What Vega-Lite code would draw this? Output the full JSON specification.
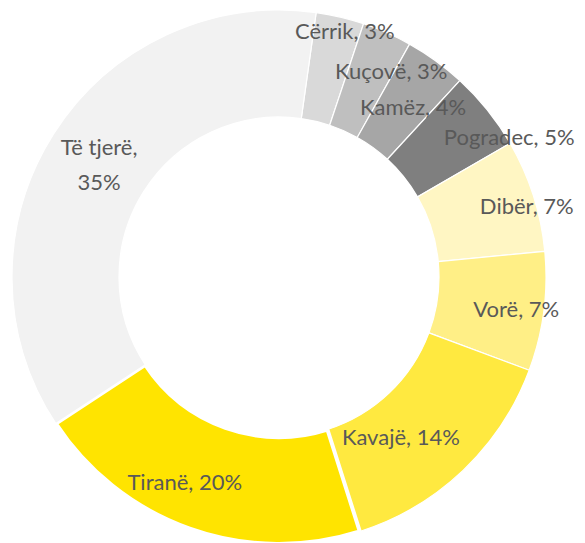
{
  "$schema": "https://vega.github.io/schema/vega-lite/v6.json",
  "width": 558,
  "height": 554,
  "autosize": "none",
  "padding": {"left": 0, "top": 0, "right": 27, "bottom": 0},
  "background": "white",
  "config": {"view": {"stroke": null}, "text": {"font": "Lato", "fontSize": 22, "color": "#595959", "radius": 213, "lineBreak": "\n", "lineHeight": 35}},
  "data": {
    "values": [
      {"idx": 1, "name": "Cërrik", "share": 2.9, "label": "Cërrik, 3%"},
      {"idx": 2, "name": "Kuçovë", "share": 3.0, "label": "Kuçovë, 3%"},
      {"idx": 3, "name": "Kamëz", "share": 3.7, "label": "Kamëz, 4%"},
      {"idx": 4, "name": "Pogradec", "share": 4.8, "label": "Pogradec, 5%"},
      {"idx": 5, "name": "Dibër", "share": 6.8, "label": "Dibër, 7%"},
      {"idx": 6, "name": "Vorë", "share": 7.2, "label": "Vorë, 7%"},
      {"idx": 7, "name": "Kavajë", "share": 14.4, "label": "Kavajë, 14%"},
      {"idx": 8, "name": "Tiranë", "share": 20.6, "label": "Tiranë, 20%"},
      {"idx": 9, "name": "Të tjerë", "share": 36.4, "label": "Të tjerë,\n35%"}
    ]
  },
  "transform": [
    {"stack": "share", "groupby": [], "sort": [{"field": "idx", "order": "ascending"}], "as": ["s0", "s1"]},
    {"calculate": "(datum.s0 + datum.s1) / 2", "as": "mid"}
  ],
  "encoding": {
    "theta": {"field": "mid", "type": "quantitative", "scale": {"domain": [0, 99.8], "range": [0.1396, 6.4228]}}
  },
  "layer": [
    {
      "mark": {"type": "arc", "outerRadius": 267, "innerRadius": 160, "stroke": "white"},
      "encoding": {
        "theta": {"field": "s0", "type": "quantitative", "scale": {"domain": [0, 99.8], "range": [0.1396, 6.4228]}},
        "theta2": {"field": "s1"},
        "color": {
          "field": "name",
          "type": "nominal",
          "legend": null,
          "scale": {
            "domain": ["Cërrik", "Kuçovë", "Kamëz", "Pogradec", "Dibër", "Vorë", "Kavajë", "Tiranë", "Të tjerë"],
            "range": ["#D9D9D9", "#BFBFBF", "#A6A6A6", "#7F7F7F", "#FFF6C3", "#FFEF86", "#FFE940", "#FFE400", "#F2F2F2"]
          }
        },
        "strokeWidth": {"condition": {"test": "datum.name === 'Tiranë'", "value": 4}, "value": 1.2}
      }
    },
    {"transform": [{"filter": "datum.idx == 1"}], "mark": {"type": "text", "dx": 17, "dy": -38}, "encoding": {"text": {"field": "label"}}},
    {"transform": [{"filter": "datum.idx == 2"}], "mark": {"type": "text", "dx": 26, "dy": -10}, "encoding": {"text": {"field": "label"}}},
    {"transform": [{"filter": "datum.idx == 3"}], "mark": {"type": "text", "dx": 9, "dy": 3}, "encoding": {"text": {"field": "label"}}},
    {"transform": [{"filter": "datum.idx == 4"}], "mark": {"type": "text", "dx": 64, "dy": -6}, "encoding": {"text": {"field": "label"}}},
    {"transform": [{"filter": "datum.idx == 5"}], "mark": {"type": "text", "dx": 45, "dy": -5}, "encoding": {"text": {"field": "label"}}},
    {"transform": [{"filter": "datum.idx == 6"}], "mark": {"type": "text", "dx": 26, "dy": 5}, "encoding": {"text": {"field": "label"}}},
    {"transform": [{"filter": "datum.idx == 7"}], "mark": {"type": "text", "dx": -25, "dy": 7}, "encoding": {"text": {"field": "label"}}},
    {"transform": [{"filter": "datum.idx == 8"}], "mark": {"type": "text", "dx": -23, "dy": 5}, "encoding": {"text": {"field": "label"}}},
    {"transform": [{"filter": "datum.idx == 9"}], "mark": {"type": "text", "dx": 0, "dy": -15}, "encoding": {"text": {"field": "label"}}}
  ]
}
